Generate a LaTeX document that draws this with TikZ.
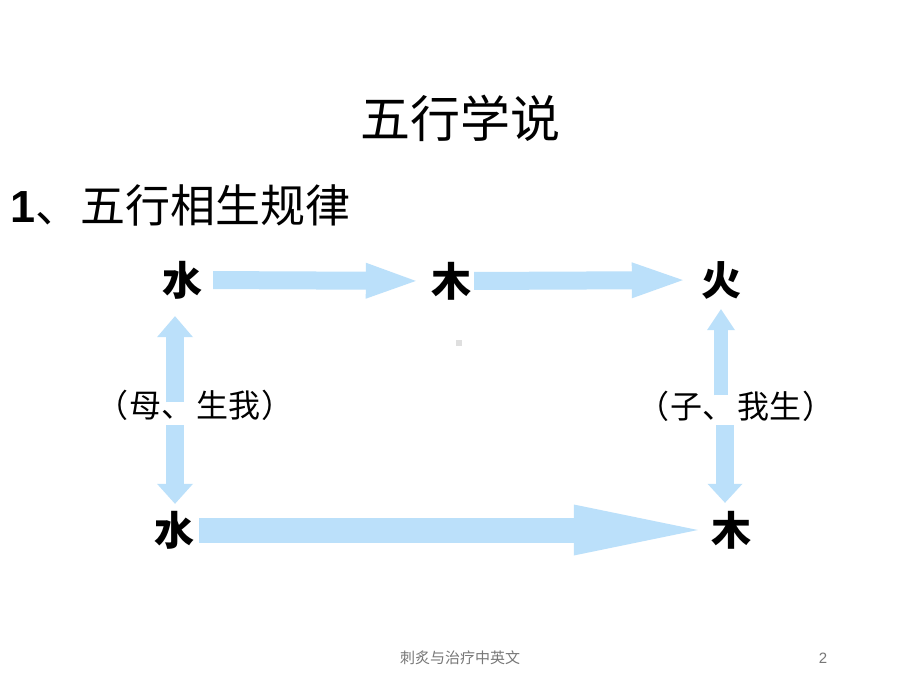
\documentclass[tikz,border=0pt]{standalone}
\usepackage{fontspec}
\setmainfont{Liberation Sans}
\newfontfamily\cjk{Noto Sans CJK SC}
\usetikzlibrary{arrows.meta}
\definecolor{qianlan}{HTML}{BBE0FA}
\definecolor{yehui}{HTML}{777777}

\begin{document}
\begin{tikzpicture}[x=1pt,y=-1pt,
  zi/.style={font=\cjk\bfseries\fontsize{40}{40}\selectfont, inner sep=0pt, text height=35pt, text depth=5pt},
  bq/.style={font=\cjk\fontsize{32}{32}\selectfont, inner sep=0pt},
  jt/.style={qianlan, line width=#1}]
\useasboundingbox[fill=white] (0,0) rectangle (920,690);
\node[font=\cjk\fontsize{50}{50}\selectfont] (biaoti) at (460,118) {五行学说};
\node[anchor=west, font=\fontsize{45}{45}\selectfont] (xiaobiaoti) at (7,205) {{\bfseries 1}\cjk 、五行相生规律};
\node[zi] (shui1) at (182.5,280) {水};
\node[zi] (mu1) at (451,281) {木};
\node[zi] (huo) at (721,280) {火};
\node[zi] (shui2) at (174,530) {水};
\node[zi] (mu2) at (731,530) {木};
\fill[gray!25] (456,340) rectangle (462,346);
% horizontal arrows
\draw[jt=18pt, -{Triangle[length=50pt,width=36pt,line width=0pt]}, shorten <=10.5pt, shorten >=15pt] (shui1.east) -- (mu1.west);
\draw[jt=18pt, -{Triangle[length=51pt,width=36pt,line width=0pt]}, shorten <=3pt, shorten >=18pt] (mu1.east) -- (huo.west);
\draw[jt=25pt, -{Triangle[length=124pt,width=51pt,line width=0pt]}, shorten <=5pt, shorten >=13pt] (shui2.east) -- (mu2.west);
% vertical arrows
\coordinate (zs) at (175,402);
\coordinate (zx) at (175,425);
\coordinate (ys) at (721,395);
\coordinate (yx) at (725,425);
\draw[jt=18pt, -{Triangle[length=21pt,width=36pt,line width=0pt]}, shorten >=16pt] (zs) -- (zs |- shui1.south);
\draw[jt=18pt, -{Triangle[length=20pt,width=36pt,line width=0pt]}, shorten >=6pt] (zx) -- (zx |- shui2.north);
\draw[jt=14pt, -{Triangle[length=21pt,width=28pt,line width=0pt]}, shorten >=9pt] (ys) -- (ys |- huo.south);
\draw[jt=18pt, -{Triangle[length=19pt,width=35pt,line width=0pt]}, shorten >=7pt] (yx) -- (yx |- mu2.north);
\node[bq] (muqin) at (195,405) {（\kern2pt 母、\kern2pt 生我\kern2pt ）};
\node[bq] (erzi) at (736,406) {（\kern2pt 子、\kern2pt 我生\kern2pt ）};
\node[font=\cjk\fontsize{15}{15}\selectfont, text=yehui] (yejiao) at (460,658) {刺炙与治疗中英文};
\node[font=\fontsize{15}{15}\selectfont, text=yehui] (yema) at (823,658) {2};
\end{tikzpicture}
\end{document}
